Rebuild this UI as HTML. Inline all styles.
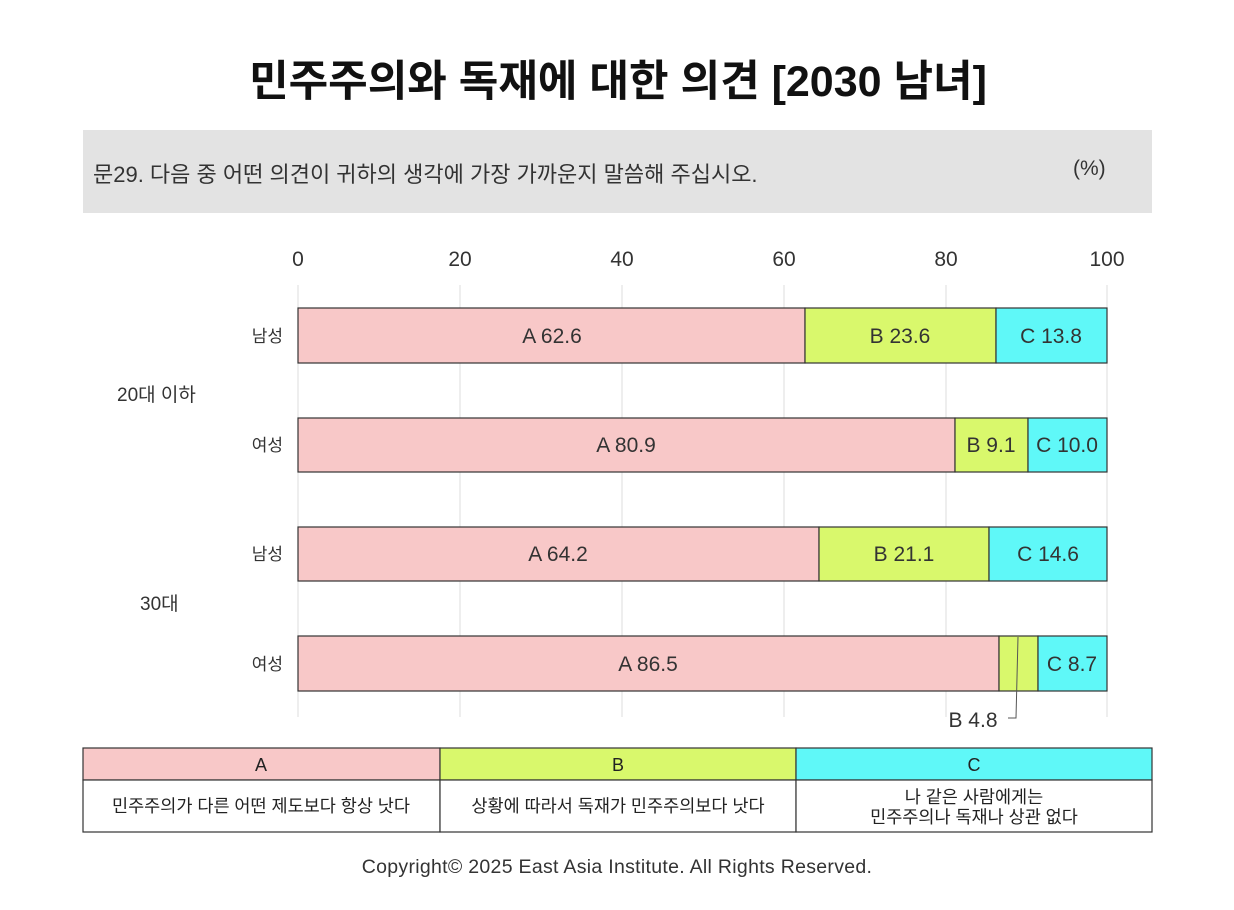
<!DOCTYPE html>
<html><head><meta charset="utf-8"><style>
body{margin:0;width:1234px;height:910px;background:#fff;font-family:"Liberation Sans","Noto Sans CJK KR",sans-serif;overflow:hidden;position:relative;color:#222}
.a{position:absolute}
</style></head><body>
<div class="a" style="left:0;top:47px;width:1236px;text-align:center;font-size:43px;font-weight:bold;color:#111">민주주의와 독재에 대한 의견 [2030 남녀]</div>
<div class="a" style="left:83px;top:130px;width:1069px;height:83px;background:#e3e3e3"></div>
<div class="a" style="left:93px;top:157px;font-size:22px;color:#333">문29. 다음 중 어떤 의견이 귀하의 생각에 가장 가까운지 말씀해 주십시오.</div>
<div class="a" style="left:1073px;top:157px;font-size:21px;color:#333">(%)</div>
<svg class="a" style="left:0;top:0" width="1234" height="910" font-family="Liberation Sans, Noto Sans CJK KR, sans-serif">
<g stroke="#ddd" stroke-width="1">
<line x1="298" y1="285" x2="298" y2="717"/><line x1="460" y1="285" x2="460" y2="717"/><line x1="622" y1="285" x2="622" y2="717"/><line x1="784" y1="285" x2="784" y2="717"/><line x1="946" y1="285" x2="946" y2="717"/><line x1="1107" y1="285" x2="1107" y2="717"/>
</g>
<g font-size="21" fill="#333" text-anchor="middle">
<text x="298" y="266">0</text><text x="460" y="266">20</text><text x="622" y="266">40</text><text x="784" y="266">60</text><text x="946" y="266">80</text><text x="1107" y="266">100</text>
</g>
<g stroke="#333" stroke-width="1.2">
<rect x="298" y="308" width="507" height="55" fill="#f8c8c8"/><rect x="805" y="308" width="191" height="55" fill="#d9f86c"/><rect x="996" y="308" width="111" height="55" fill="#5ff8f8"/>
<rect x="298" y="418" width="657" height="54" fill="#f8c8c8"/><rect x="955" y="418" width="73" height="54" fill="#d9f86c"/><rect x="1028" y="418" width="79" height="54" fill="#5ff8f8"/>
<rect x="298" y="527" width="521" height="54" fill="#f8c8c8"/><rect x="819" y="527" width="170" height="54" fill="#d9f86c"/><rect x="989" y="527" width="118" height="54" fill="#5ff8f8"/>
<rect x="298" y="636" width="701" height="55" fill="#f8c8c8"/><rect x="999" y="636" width="39" height="55" fill="#d9f86c"/><rect x="1038" y="636" width="69" height="55" fill="#5ff8f8"/>
</g>
<polyline points="1018,637 1016,718 1008,718" fill="none" stroke="#555" stroke-width="1"/>
<g font-size="21" fill="#333" text-anchor="middle">
<text x="552" y="343">A 62.6</text><text x="900" y="343">B 23.6</text><text x="1051" y="343">C 13.8</text>
<text x="626" y="452">A 80.9</text><text x="991" y="452">B 9.1</text><text x="1067" y="452">C 10.0</text>
<text x="558" y="561">A 64.2</text><text x="904" y="561">B 21.1</text><text x="1048" y="561">C 14.6</text>
<text x="648" y="671">A 86.5</text><text x="1072" y="671">C 8.7</text>
<text x="973" y="727">B 4.8</text>
</g>
<g font-size="17" fill="#333" text-anchor="end">
<text x="283" y="342">남성</text><text x="283" y="451">여성</text><text x="283" y="560">남성</text><text x="283" y="670">여성</text>
</g>
<g font-size="19" fill="#333">
<text x="117" y="401">20대 이하</text><text x="140" y="610">30대</text>
</g>
<g stroke="#333" stroke-width="1.2">
<rect x="83" y="748" width="357" height="32" fill="#f8c8c8"/><rect x="440" y="748" width="356" height="32" fill="#d9f86c"/><rect x="796" y="748" width="356" height="32" fill="#5ff8f8"/>
<rect x="83" y="780" width="357" height="52" fill="#fff"/><rect x="440" y="780" width="356" height="52" fill="#fff"/><rect x="796" y="780" width="356" height="52" fill="#fff"/>
</g>
<g font-size="18" fill="#222" text-anchor="middle">
<text x="261" y="771">A</text><text x="618" y="771">B</text><text x="974" y="771">C</text>
</g>
<g font-size="17.5" fill="#222" text-anchor="middle">
<text x="261" y="812">민주주의가 다른 어떤 제도보다 항상 낫다</text>
<text x="618" y="812">상황에 따라서 독재가 민주주의보다 낫다</text>
<text x="974" y="803">나 같은 사람에게는</text>
<text x="974" y="823">민주주의나 독재나 상관 없다</text>
</g>
<text x="617" y="873" font-size="19.5" fill="#333" text-anchor="middle" letter-spacing="0.3">Copyright© 2025 East Asia Institute. All Rights Reserved.</text>
</svg>
</body></html>
